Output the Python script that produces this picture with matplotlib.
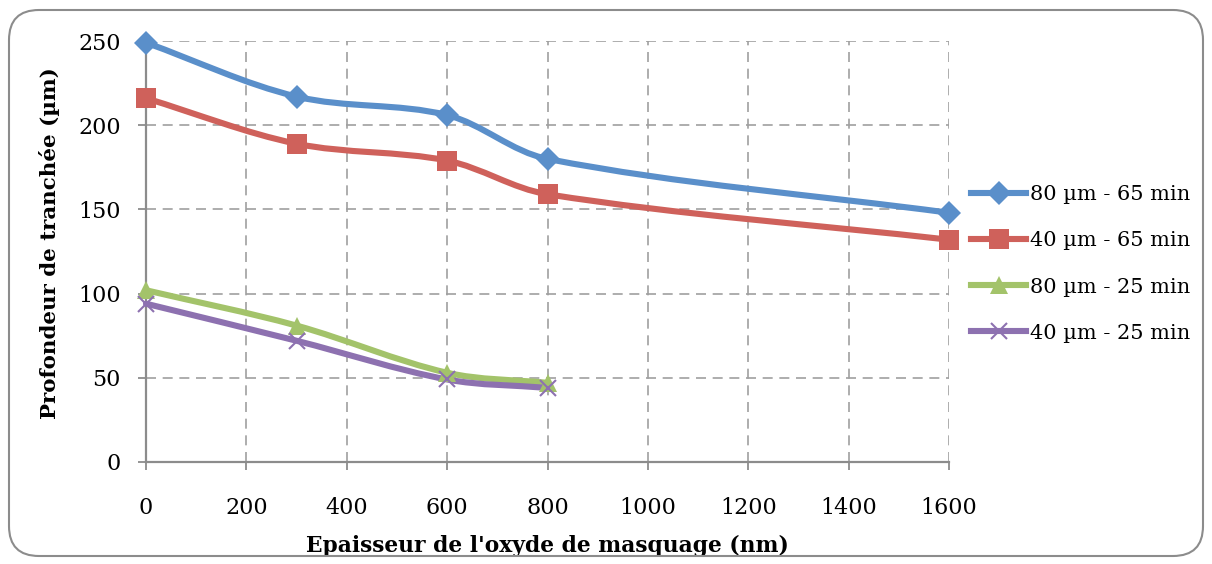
import numpy as np
import matplotlib
matplotlib.use('Agg')
import matplotlib.pyplot as plt
from matplotlib.path import Path
from matplotlib.patches import PathPatch, FancyBboxPatch
from matplotlib.lines import Line2D

# Donnees
epaisseur = [0, 300, 600, 800, 1600]
epaisseur_25 = [0, 300, 600, 800]
p80_65 = [249, 217, 206, 180, 148]
p40_65 = [216, 189, 179, 159, 132]
p80_25 = [102, 81, 53, 47]
p40_25 = [94, 72, 49, 44]

noms = ['80 µm - 65 min', '40 µm - 65 min', '80 µm - 25 min', '40 µm - 25 min']
couleurs = ['#5A8FCA', '#CF615B', '#A3C36A', '#8D71B0']
marqueurs = ['D', 's', '^', 'x']
tailles = [12, 14.5, 12.5, 12]

plt.rcParams['font.family'] = ['DejaVu Serif']
FS = 16

W, H = 1212, 564
X0, X1, Y0, Y1 = 146, 949, 41, 462
sx = (X1 - X0) / 1600
sy = (Y1 - Y0) / 250


def courbe_lisse(x, y):
    # lissage type Excel : Bezier, tangentes calculees en pixels
    pts = np.column_stack([np.array(x) * sx, np.array(y) * sy]).astype(float)
    n = len(pts)
    tang = []
    for i in range(n):
        a = pts[i - 1] if i > 0 else pts[i]
        b = pts[i + 1] if i < n - 1 else pts[i]
        d = b - a
        tang.append(d / np.hypot(*d))
    verts = [pts[0]]
    codes = [Path.MOVETO]
    for i in range(n - 1):
        L = np.hypot(*(pts[i + 1] - pts[i]))
        c1 = pts[i] + tang[i] * L / 3
        c2 = pts[i + 1] - tang[i + 1] * L / 3
        verts += [c1, c2, pts[i + 1]]
        codes += [Path.CURVE4] * 3
    verts = np.array(verts) / [sx, sy]
    return Path(verts, codes)


fig = plt.figure(figsize=(W / 100, H / 100), dpi=100)
ax = fig.add_axes([X0 / W, 1 - Y1 / H, (X1 - X0) / W, (Y1 - Y0) / H])

series = [(epaisseur, p80_65), (epaisseur, p40_65), (epaisseur_25, p80_25), (epaisseur_25, p40_25)]
handles = []
for (x, y), nom, c, m, t in zip(series, noms, couleurs, marqueurs, tailles):
    ax.add_patch(PathPatch(courbe_lisse(x, y), fill=False, edgecolor=c, lw=4.4,
                           capstyle='round', joinstyle='round', zorder=3, clip_on=False))
    mew = 1.5 if m == 'x' else 0
    ax.plot(x, y, linestyle='none', marker=m, markersize=t, color=c, mec=c, mew=mew,
            zorder=4, clip_on=False)
    handles.append(Line2D([], [], color=c, lw=4.4, marker=m, markersize=t, mec=c, mew=mew))

ax.set_xlim(0, 1600)
ax.set_ylim(0, 250)
ax.set_xticks(np.arange(0, 1601, 200))
ax.set_yticks(np.arange(0, 251, 50))
ax.grid(True, linestyle=(0, (6, 4)), color='#a0a0a0', lw=1.2)
ax.set_axisbelow(True)
for s in ['top', 'right']:
    ax.spines[s].set_visible(False)
for s in ['left', 'bottom']:
    ax.spines[s].set_color('#8c8c8c')
    ax.spines[s].set_linewidth(1.6)
ax.tick_params(axis='x', length=6, width=1.3, color='#8c8c8c', pad=19, labelsize=FS)
ax.tick_params(axis='y', length=6, width=1.3, color='#8c8c8c', pad=12, labelsize=FS)

ax.set_xlabel("Epaisseur de l'oxyde de masquage (nm)", fontsize=15.7, fontweight='bold', labelpad=12)
ax.set_ylabel("Profondeur de tranchée (µm)", fontsize=15.4, fontweight='bold')
ax.yaxis.set_label_coords(-0.107, 0.52)

fig.legend(handles, noms, loc='center left', bbox_to_anchor=(971 / W, 1 - 264 / H),
           frameon=False, fontsize=15, handlelength=2.65, handletextpad=0.2, labelspacing=1.3,
           borderaxespad=0, borderpad=0)

cadre = FancyBboxPatch((0.09, 0.08), 11.94, 5.46, boxstyle='round,pad=0,rounding_size=0.3',
                       transform=fig.dpi_scale_trans, fill=False, edgecolor='#8c8c8c', lw=1.5)
fig.patches.append(cadre)

fig.savefig('out.png', dpi=100)
